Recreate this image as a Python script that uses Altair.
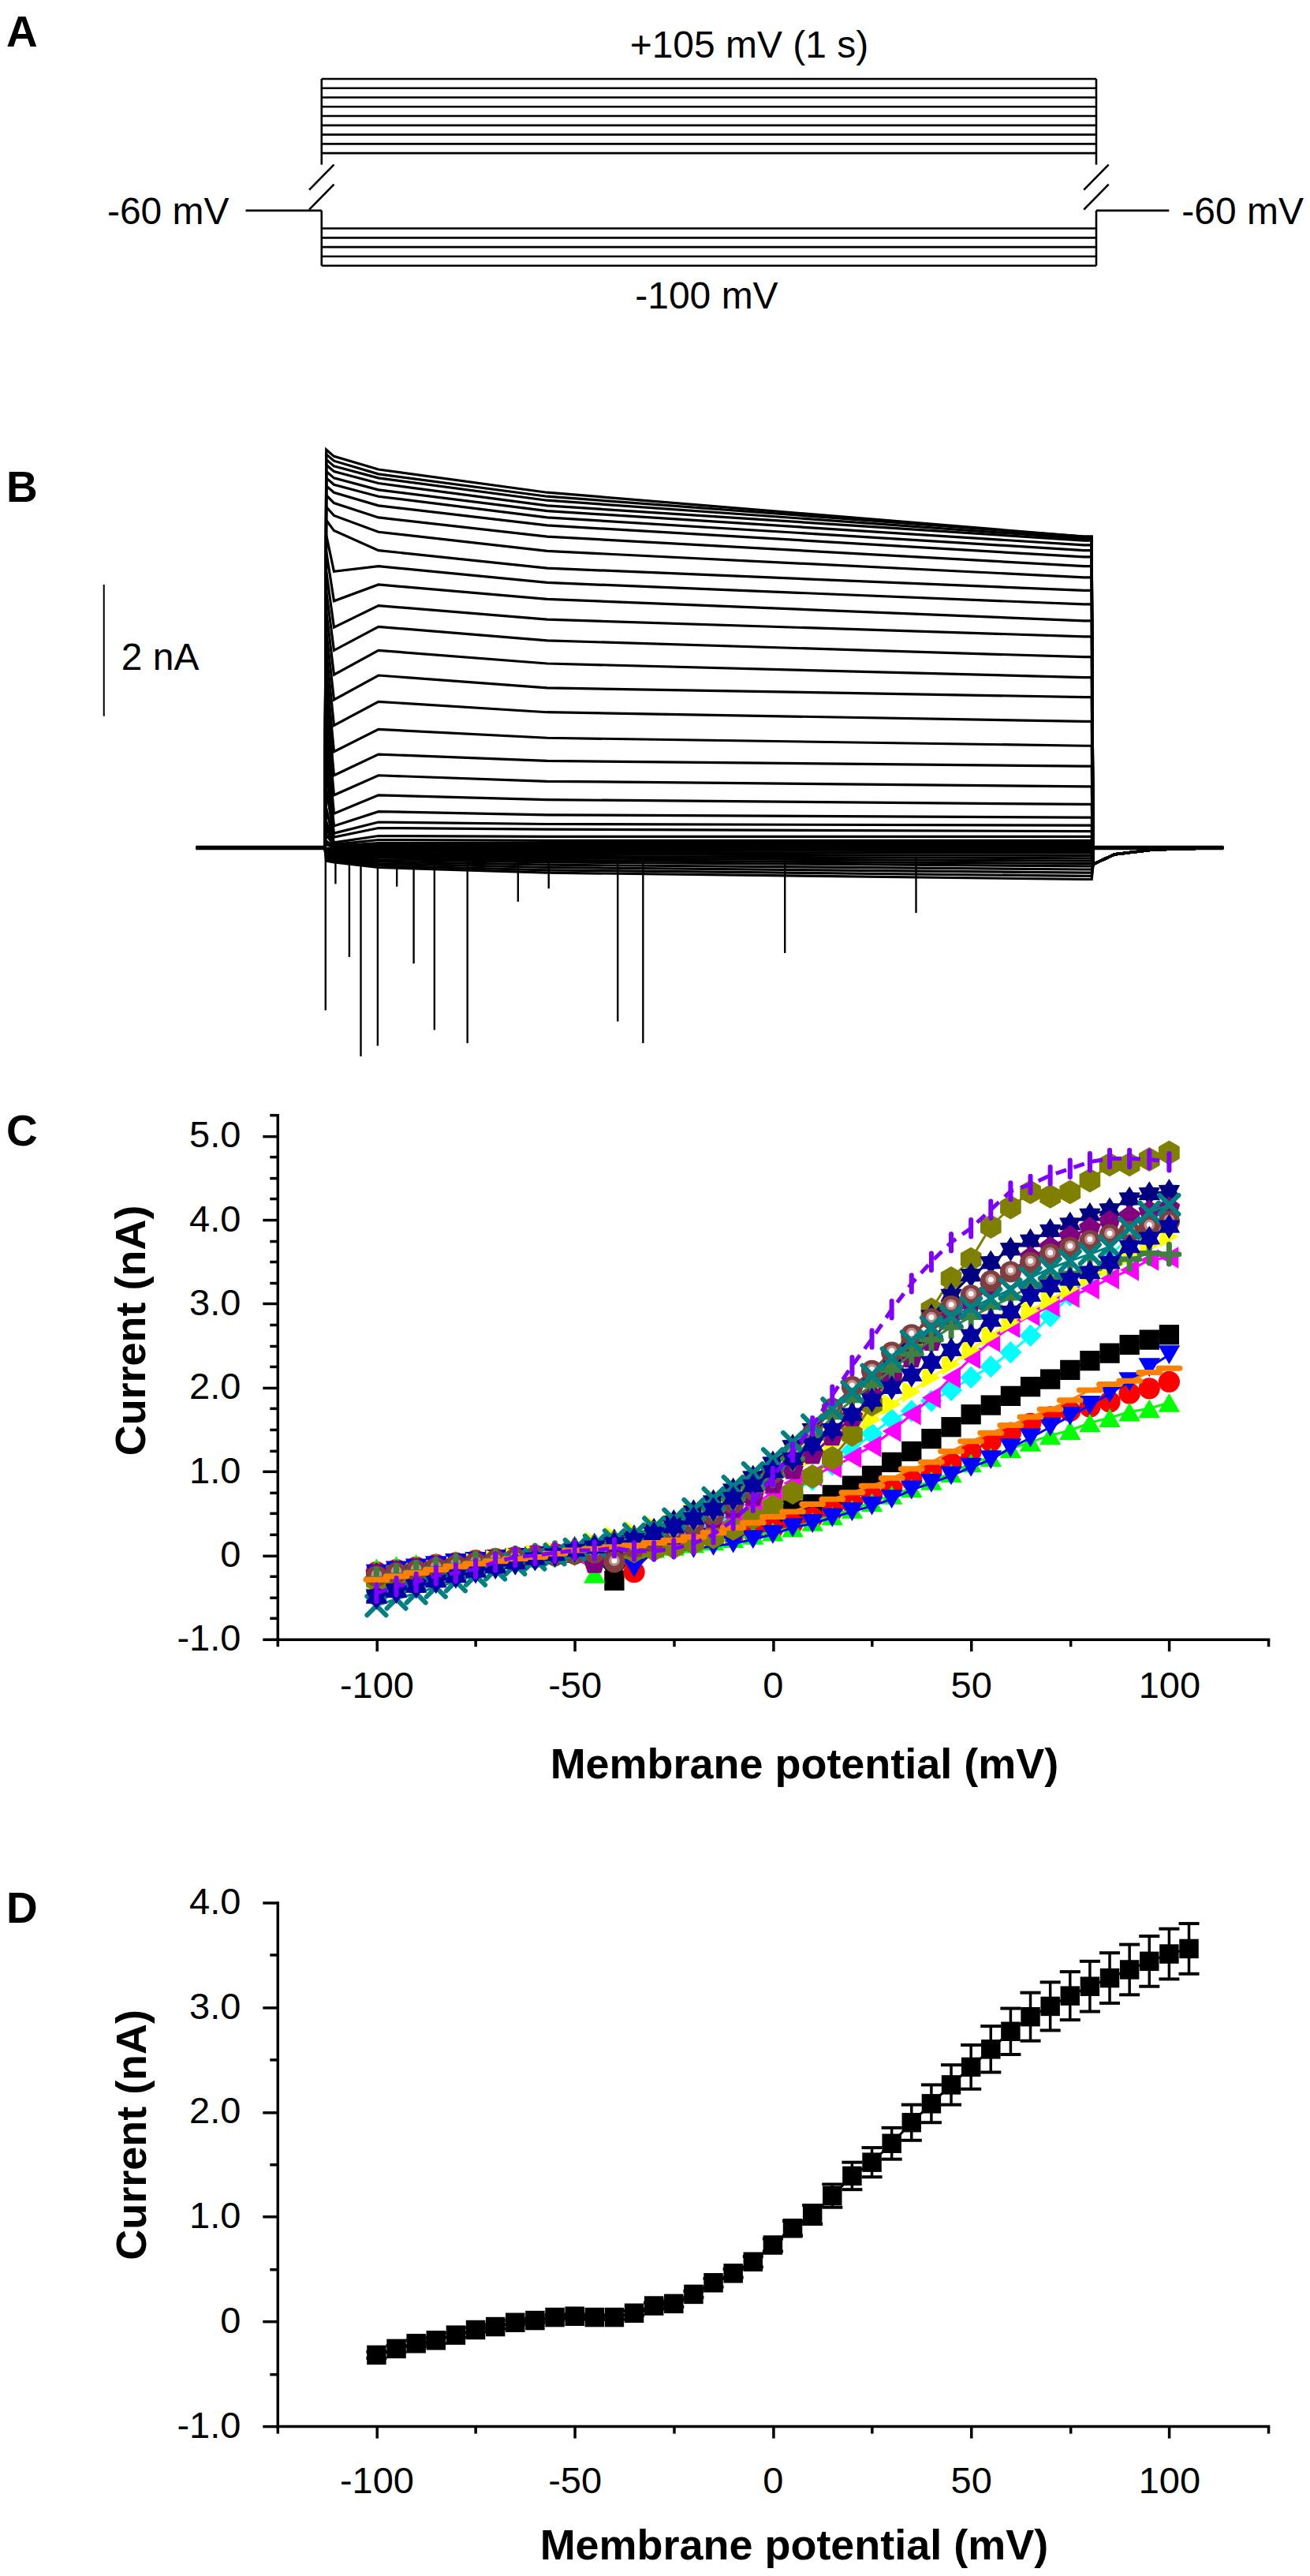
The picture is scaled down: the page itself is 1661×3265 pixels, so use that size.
import numpy as np
import pandas as pd
import altair as alt

FONT = "Liberation Sans"

# ---------- panel A: voltage protocol (schematic) ----------
step_top_mv = [105, 100, 95, 90, 85, 80, 75, 70, 65]
step_bottom_mv = [-80, -85, -90, -95, -100]
holding_mv = -60
step_on_ms, step_off_ms = 0, 1000
hold_start_ms, hold_end_ms = -98, 1094
edge_segments_mv = [[105, 40], [-60, -100]]   # step edges above / below the break
slash_mv = [[40, -15], [-3, -58]]             # the two strokes of the "//" break
slash_half_ms = 16

# ---------- panel B: current traces (nA), one row per sweep ----------
sweep_mv = list(range(-100, 110, 5))
trace_t_ms = [2, 12, 70, 290, 990]
i_2ms = [-0.20, -0.18, -0.16, -0.14, -0.12, -0.10, -0.08, -0.06, -0.05, -0.03, -0.02, -0.01,
         0.05, 0.10, 0.20, 0.30,
         0.40, 0.60, 0.90, 1.20, 1.50, 1.80, 2.10, 2.40, 2.70, 3.00, 3.30, 3.60, 3.90, 4.20,
         4.50, 4.75, 4.98, 5.18, 5.36, 5.50, 5.62, 5.72, 5.82, 5.90, 5.98, 6.05]
i_12ms = [-0.22, -0.20, -0.18, -0.16, -0.14, -0.12, -0.10, -0.08, -0.06, -0.04, -0.02, 0.00,
          0.01, 0.02, 0.03, 0.03,
          0.05, 0.08, 0.16, 0.22, 0.33, 0.52, 0.80, 1.10, 1.46, 1.86, 2.25, 2.63, 3.00, 3.35,
          3.75, 4.20, 4.82, 5.05, 5.24, 5.40, 5.52, 5.62, 5.72, 5.80, 5.88, 5.95]
i_70ms = [-0.30, -0.27, -0.24, -0.21, -0.18, -0.15, -0.12, -0.10, -0.08, -0.05, -0.03, -0.01,
          0.01, 0.03, 0.05, 0.07,
          0.12, 0.18, 0.30, 0.39, 0.55, 0.80, 1.10, 1.42, 1.80, 2.22, 2.62, 3.00, 3.36, 3.68,
          4.00, 4.28, 4.52, 4.80, 5.02, 5.20, 5.34, 5.44, 5.54, 5.62, 5.68, 5.75]
i_290ms = [-0.38, -0.34, -0.30, -0.26, -0.22, -0.19, -0.16, -0.13, -0.10, -0.07, -0.04, -0.02,
           0.00, 0.02, 0.04, 0.07,
           0.11, 0.17, 0.28, 0.36, 0.50, 0.73, 1.01, 1.32, 1.67, 2.06, 2.43, 2.80, 3.15, 3.47,
           3.78, 4.03, 4.25, 4.51, 4.73, 4.90, 5.02, 5.12, 5.20, 5.28, 5.34, 5.40]
i_990ms = [-0.48, -0.43, -0.38, -0.33, -0.28, -0.24, -0.20, -0.16, -0.12, -0.08, -0.05, -0.02,
           0.00, 0.02, 0.04, 0.07,
           0.11, 0.17, 0.25, 0.34, 0.46, 0.66, 0.93, 1.24, 1.55, 1.92, 2.29, 2.59, 2.90, 3.21,
           3.45, 3.70, 3.91, 4.11, 4.28, 4.42, 4.52, 4.60, 4.67, 4.70, 4.73, 4.73]
tail_t_ms = [1002, 1030, 1080, 1172]
tail_na = [-0.25, -0.10, -0.03, 0.0]
baseline_ms = [[-168, 0], [1000, 1172]]
event_t_ms = [1, 14, 32, 47, 69, 94, 116, 143, 186, 252, 292, 382, 415, 600, 771]
event_na = [-2.47, -0.55, -1.66, -3.17, -3.01, -0.59, -1.76, -2.77, -2.97, -0.82, -0.62,
            -2.64, -2.97, -1.60, -0.99]
scalebar_ms = -288
scalebar_na = [2.0, 4.0]

# ---------- panel C: I-V curves of single cells ----------
c_mv = list(range(-100, 105, 5))
c_black = [-0.25, -0.21, -0.17, -0.14, -0.11, -0.08, -0.05, -0.03, -0.01, 0.01, 0.03,
           0.03, -0.30, 0.06, 0.10, 0.15, 0.20, 0.26, 0.32, 0.40, 0.47,
           0.54, 0.61, 0.72, 0.83, 0.95, 1.11, 1.24, 1.39, 1.53, 1.68,
           1.79, 1.90, 2.01, 2.10, 2.21, 2.32, 2.41, 2.51, 2.57, 2.63]
c_red = [-0.20, -0.17, -0.14, -0.11, -0.09, -0.06, -0.04, -0.02, 0.00, 0.02, 0.03,
         0.04, 0.03, -0.20, 0.08, 0.12, 0.16, 0.20, 0.24, 0.28, 0.32,
         0.38, 0.45, 0.53, 0.62, 0.71, 0.80, 0.90, 1.00, 1.10, 1.24,
         1.36, 1.46, 1.57, 1.65, 1.72, 1.77, 1.83, 1.93, 1.99, 2.07]
c_green = [-0.15, -0.12, -0.10, -0.08, -0.06, -0.04, -0.02, 0.00, 0.01, 0.02, 0.03,
           -0.22, 0.04, 0.06, 0.08, 0.11, 0.14, 0.17, 0.20, 0.24, 0.28,
           0.33, 0.40, 0.47, 0.55, 0.63, 0.72, 0.80, 0.89, 0.98, 1.10,
           1.17, 1.27, 1.35, 1.43, 1.49, 1.58, 1.64, 1.71, 1.75, 1.82]
c_blue = [-0.22, -0.18, -0.15, -0.12, -0.09, -0.07, -0.05, -0.03, -0.01, 0.01, 0.02,
          0.02, 0.02, -0.15, 0.04, 0.06, 0.08, 0.11, 0.14, 0.19, 0.25,
          0.33, 0.38, 0.45, 0.52, 0.59, 0.67, 0.78, 0.86, 0.95, 1.05,
          1.14, 1.28, 1.40, 1.53, 1.66, 1.79, 1.93, 2.07, 2.24, 2.39]
c_cyan = [-0.40, -0.35, -0.30, -0.25, -0.20, -0.16, -0.12, -0.08, -0.05, -0.02, 0.01,
          0.04, 0.07, 0.10, 0.15, 0.22, 0.30, 0.38, 0.45, 0.53, 0.62,
          0.75, 0.90, 1.08, 1.25, 1.45, 1.62, 1.72, 1.84, 1.97, 2.12,
          2.25, 2.42, 2.62, 2.85, 3.10, 3.35, 3.58, 3.78, 3.95, 4.05]
c_magenta = [-0.35, -0.30, -0.25, -0.21, -0.17, -0.13, -0.09, -0.06, -0.03, 0.00, 0.02,
             0.04, 0.06, 0.09, 0.13, 0.18, 0.25, 0.33, 0.45, 0.60, 0.75,
             0.86, 0.95, 1.05, 1.17, 1.30, 1.48, 1.68, 1.88, 2.12, 2.35,
             2.55, 2.72, 2.86, 2.97, 3.08, 3.18, 3.30, 3.40, 3.52, 3.55]
c_yellow = [-0.30, -0.26, -0.22, -0.18, -0.14, -0.10, -0.06, -0.03, 0.00, 0.04, 0.08,
            0.15, 0.22, 0.28, 0.35, 0.42, 0.50, 0.59, 0.69, 0.80, 0.92,
            1.05, 1.18, 1.32, 1.47, 1.62, 1.80, 1.95, 2.12, 2.28, 2.45,
            2.62, 2.78, 2.92, 3.05, 3.18, 3.32, 3.44, 3.57, 3.69, 3.80]
c_olive = [-0.30, -0.26, -0.22, -0.18, -0.14, -0.10, -0.07, -0.04, -0.02, 0.00, 0.02,
           0.03, 0.04, 0.05, 0.07, 0.10, 0.15, 0.22, 0.32, 0.45, 0.58,
           0.75, 0.94, 1.16, 1.44, 1.80, 2.15, 2.55, 2.93, 3.30, 3.53,
           3.92, 4.15, 4.33, 4.28, 4.33, 4.47, 4.66, 4.66, 4.72, 4.80]
c_navy = [-0.48, -0.41, -0.35, -0.29, -0.23, -0.17, -0.12, -0.07, -0.02, 0.03, 0.08,
          0.12, 0.17, 0.22, 0.30, 0.40, 0.52, 0.64, 0.78, 0.93, 1.10,
          1.30, 1.50, 1.72, 1.92, 2.15, 2.38, 2.60, 2.85, 3.10, 3.34,
          3.49, 3.65, 3.75, 3.87, 3.95, 4.06, 4.12, 4.25, 4.31, 4.34]
c_purple = [-0.22, -0.19, -0.16, -0.13, -0.10, -0.07, -0.05, -0.03, -0.01, 0.01, 0.02,
            -0.10, 0.05, 0.10, 0.16, 0.24, 0.33, 0.44, 0.56, 0.70, 0.85,
            1.02, 1.20, 1.42, 1.65, 1.90, 2.12, 2.35, 2.55, 2.85, 3.02,
            3.20, 3.38, 3.55, 3.67, 3.80, 3.90, 3.98, 4.04, 4.10, 4.14]
c_wine = [-0.25, -0.21, -0.18, -0.15, -0.12, -0.09, -0.06, -0.04, -0.02, 0.00, 0.02,
          0.03, -0.08, 0.10, 0.17, 0.26, 0.37, 0.48, 0.62, 0.78, 0.98,
          1.22, 1.45, 1.75, 2.01, 2.20, 2.42, 2.63, 2.82, 2.97, 3.10,
          3.27, 3.38, 3.49, 3.59, 3.67, 3.75, 3.82, 3.86, 3.92, 3.98]
c_dkgreen = [-0.28, -0.24, -0.20, -0.16, -0.12, -0.09, -0.06, -0.03, 0.00, 0.03, 0.06,
             0.10, 0.14, 0.19, 0.26, 0.34, 0.44, 0.55, 0.67, 0.80, 0.95,
             1.15, 1.40, 1.65, 1.85, 2.03, 2.21, 2.40, 2.57, 2.72, 2.84,
             2.96, 3.07, 3.21, 3.30, 3.36, 3.42, 3.48, 3.53, 3.60, 3.59]
c_teal = [-0.60, -0.52, -0.45, -0.38, -0.31, -0.24, -0.17, -0.11, -0.05, 0.01, 0.07,
          0.12, 0.18, 0.25, 0.33, 0.43, 0.55, 0.68, 0.82, 0.98, 1.15,
          1.35, 1.55, 1.75, 1.95, 2.15, 2.35, 2.55, 2.72, 2.85, 2.95,
          3.06, 3.17, 3.31, 3.42, 3.51, 3.59, 3.68, 3.90, 4.09, 4.18]
c_royal = [-0.50, -0.43, -0.37, -0.31, -0.25, -0.19, -0.14, -0.09, -0.04, 0.01, 0.06,
           0.10, 0.14, 0.19, 0.26, 0.34, 0.44, 0.55, 0.68, 0.83, 1.00,
           1.15, 1.32, 1.50, 1.68, 1.85, 2.00, 2.15, 2.30, 2.45, 2.62,
           2.80, 2.90, 3.10, 3.21, 3.29, 3.37, 3.49, 3.68, 3.78, 3.92]
c_orange = [-0.29, -0.25, -0.21, -0.17, -0.13, -0.10, -0.07, -0.04, -0.02, 0.02, 0.06,
            0.08, 0.10, 0.12, 0.15, 0.18, 0.22, 0.27, 0.33, 0.39, 0.46,
            0.52, 0.61, 0.67, 0.75, 0.83, 0.92, 1.03, 1.11, 1.24, 1.36,
            1.46, 1.55, 1.65, 1.74, 1.85, 1.97, 2.04, 2.08, 2.18, 2.23]
c_violet = [-0.45, -0.37, -0.32, -0.24, -0.21, -0.16, -0.08, -0.02, 0.00, 0.03, 0.06,
            0.06, 0.09, 0.05, 0.05, 0.08, 0.14, 0.25, 0.42, 0.63, 0.94,
            1.23, 1.54, 1.91, 2.26, 2.58, 2.93, 3.24, 3.50, 3.73, 3.90,
            4.12, 4.34, 4.42, 4.53, 4.61, 4.69, 4.73, 4.73, 4.72, 4.69]

# ---------- panel D: mean I-V with SEM ----------
d_mv = list(range(-100, 110, 5))
d_mean = [-0.32, -0.26, -0.21, -0.18, -0.13, -0.08, -0.05, -0.01, 0.01, 0.04, 0.05,
          0.04, 0.04, 0.08, 0.15, 0.17, 0.26, 0.37, 0.46, 0.57, 0.73,
          0.89, 1.02, 1.20, 1.39, 1.52, 1.70, 1.90, 2.08, 2.26, 2.43,
          2.60, 2.77, 2.91, 3.01, 3.11, 3.20, 3.28, 3.36, 3.44, 3.51, 3.56]
d_sem = [0.03, 0.03, 0.03, 0.03, 0.02, 0.02, 0.02, 0.02, 0.02, 0.02, 0.02,
         0.02, 0.02, 0.02, 0.03, 0.03, 0.03, 0.04, 0.04, 0.05, 0.06,
         0.07, 0.09, 0.11, 0.13, 0.14, 0.15, 0.17, 0.18, 0.19, 0.21,
         0.22, 0.22, 0.23, 0.23, 0.23, 0.24, 0.24, 0.24, 0.24, 0.24, 0.24]

# ---------- axis ticks ----------
iv_x_ticks = [-125, -100, -75, -50, -25, 0, 25, 50, 75, 100, 125]
c_y_ticks = [-1.0, -0.75, -0.5, -0.25, 0.0, 0.25, 0.5, 0.75, 1.0, 1.25, 1.5, 1.75, 2.0, 2.25,
             2.5, 2.75, 3.0, 3.25, 3.5, 3.75, 4.0, 4.25, 4.5, 4.75, 5.0, 5.25]
d_y_ticks = [-1.0, -0.5, 0.0, 0.5, 1.0, 1.5, 2.0, 2.5, 3.0, 3.5, 4.0]

# ---------- symbols ----------
HEXAGON = "M0,-1L0.866,-0.5L0.866,0.5L0,1L-0.866,0.5L-0.866,-0.5Z"
PENTAGON = "M0,-1L0.951,-0.309L0.588,0.809L-0.588,0.809L-0.951,-0.309Z"
STAR = ("M0,-1L0.3,-0.52L0.866,-0.5L0.6,0L0.866,0.5L0.3,0.52L0,1L-0.3,0.52"
        "L-0.866,0.5L-0.6,0L-0.866,-0.5L-0.3,-0.52Z")
XCROSS = "M-1,-1L1,1M-1,1L1,-1"
PLUS = "M-1,0L1,0M0,-1L0,1"
HBAR = "M-1,0L1,0"
VBAR = "M0,-1L0,1"

# values, color, shape, filled, size, stroke width (drawing order as in the figure)
c_styles = [
    (c_black, "#000000", "square", True, 640, 0),
    (c_red, "#FF0000", "circle", True, 740, 0),
    (c_green, "#00FF00", "triangle-up", True, 760, 0),
    (c_blue, "#0000FF", "triangle-down", True, 760, 0),
    (c_cyan, "#00FFFF", "diamond", True, 800, 0),
    (c_magenta, "#FF00FF", "triangle-left", True, 760, 0),
    (c_yellow, "#FFFF00", "triangle-right", True, 760, 0),
    (c_olive, "#808000", HEXAGON, True, 950, 0),
    (c_navy, "#000080", STAR, True, 1000, 0),
    (c_purple, "#800080", PENTAGON, True, 850, 0),
    (c_wine, "#7F3F3F", "circle", True, 740, 0),
    (c_dkgreen, "#3F7F3F", PLUS, False, 620, 7),
    (c_teal, "#008080", XCROSS, False, 580, 6),
    (c_royal, "#0000A0", STAR, True, 1000, 0),
    (c_orange, "#FF8000", HBAR, False, 720, 7),
    (c_violet, "#8000FF", VBAR, False, 460, 6),
]


def letter(label, y_px):
    return alt.Chart(pd.DataFrame({"label": [label]})).mark_text(
        font=FONT, fontSize=55, fontWeight="bold", align="left",
        baseline="alphabetic", color="black",
    ).encode(x=alt.value(-344), y=alt.value(y_px), text="label:N")


# ---------- A ----------
xa = alt.Scale(domain=[-57, 1222], nice=False, zero=False)
ya = alt.Scale(domain=[-100, -80, -60, 65, 105], range=[328, 280.7, 258, 185.3, 91],
               nice=False, zero=False)

steps = pd.DataFrame({"t": step_on_ms, "t1": step_off_ms, "v": step_top_mv + step_bottom_mv})
edges = pd.DataFrame([{"t": e, "v": s[0], "v1": s[1]}
                      for e in (step_on_ms, step_off_ms) for s in edge_segments_mv])
stubs = pd.DataFrame({"t": [hold_start_ms, step_off_ms], "t1": [step_on_ms, hold_end_ms],
                      "v": [holding_mv, holding_mv]})
slashes = pd.DataFrame([{"t": e + slash_half_ms, "t1": e - slash_half_ms, "v": s[0], "v1": s[1]}
                        for e in (step_on_ms, step_off_ms) for s in slash_mv])

rule_a = dict(color="black", strokeWidth=2.6)
a_steps = alt.Chart(steps).mark_rule(**rule_a).encode(
    x=alt.X("t:Q", scale=xa, axis=None), x2="t1:Q", y=alt.Y("v:Q", scale=ya, axis=None))
a_edges = alt.Chart(edges).mark_rule(**rule_a).encode(
    x=alt.X("t:Q", scale=xa, axis=None), y=alt.Y("v:Q", scale=ya, axis=None), y2="v1:Q")
a_stubs = alt.Chart(stubs).mark_rule(**rule_a).encode(
    x=alt.X("t:Q", scale=xa, axis=None), x2="t1:Q", y=alt.Y("v:Q", scale=ya, axis=None))
a_slash = alt.Chart(slashes).mark_rule(**rule_a).encode(
    x=alt.X("t:Q", scale=xa, axis=None), x2="t1:Q",
    y=alt.Y("v:Q", scale=ya, axis=None), y2="v1:Q")


def a_label(t, v, text, **kw):
    return alt.Chart(pd.DataFrame({"t": [t], "v": [v], "label": [text]})).mark_text(
        font=FONT, fontSize=48, color="black", **kw
    ).encode(x=alt.X("t:Q", scale=xa, axis=None), y=alt.Y("v:Q", scale=ya, axis=None),
             text="label:N")


panel_a = alt.layer(
    a_steps, a_edges, a_stubs, a_slash,
    a_label(552, 105, "+105 mV (1 s)", align="center", baseline="alphabetic", dy=-27),
    a_label(497, -100, "-100 mV", align="center", baseline="alphabetic", dy=54),
    a_label(hold_start_ms, holding_mv, "-60 mV", align="right", baseline="middle", dx=-21, dy=3),
    a_label(hold_end_ms, holding_mv, "-60 mV", align="left", baseline="middle", dx=16, dy=3),
    letter("A", 50),
).properties(width=1257, height=335)

# ---------- B ----------
xb = alt.Scale(domain=[-61.7, 1230.2], nice=False, zero=False)
yb = alt.Scale(domain=[-0.058, 4.760], nice=False, zero=False)

rows = []
for k, mv in enumerate(sweep_mv):
    pts = [(baseline_ms[0][0], 0.0), (step_on_ms, 0.0)]
    pts += list(zip(trace_t_ms, [i_2ms[k], i_12ms[k], i_70ms[k], i_290ms[k], i_990ms[k]]))
    pts += [(step_off_ms, i_990ms[k])]
    pts += list(zip(tail_t_ms, tail_na))
    rows += [{"sweep": mv, "t": t, "i": v} for t, v in pts]
traces = pd.DataFrame(rows)

bx = alt.X("t:Q", scale=xb, axis=None)
by = alt.Y("i:Q", scale=yb, axis=None)
b_traces = alt.Chart(traces).mark_line(color="black", strokeWidth=3.2).encode(
    x=bx, y=by, detail="sweep:N")
b_base = alt.Chart(pd.DataFrame({"t": [b[0] for b in baseline_ms], "t1": [b[1] for b in baseline_ms],
                                 "i": [0.0, 0.0]})).mark_rule(color="black", strokeWidth=5.5).encode(
    x=bx, x2="t1:Q", y=by)
b_events = alt.Chart(pd.DataFrame({"t": event_t_ms, "i": [-0.15] * len(event_t_ms),
                                   "i1": event_na})).mark_rule(color="black", strokeWidth=2.4).encode(
    x=bx, y=by, y2="i1:Q")
b_bar = alt.Chart(pd.DataFrame({"t": [scalebar_ms], "i": [scalebar_na[0]], "i1": [scalebar_na[1]]})
                  ).mark_rule(color="black", strokeWidth=2).encode(x=bx, y=by, y2="i1:Q")
b_bar_label = alt.Chart(pd.DataFrame({"t": [scalebar_ms], "i": [2.91], "label": ["2 nA"]})).mark_text(
    font=FONT, fontSize=48, color="black", align="left", baseline="middle", dx=22, dy=3
).encode(x=bx, y=by, text="label:N")

panel_b = alt.layer(b_base, b_traces, b_events, b_bar, b_bar_label, letter("B", -42)).properties(
    width=1257, height=402)


# ---------- C and D axes ----------
def x_axis(label_pad, title_x, title_y):
    return alt.Axis(
        values=iv_x_ticks,
        labelExpr="abs(datum.value % 50) < 0.001 ? (datum.value < 0 ? '-' : '') + format(abs(datum.value), 'd') : ''",
        tickSize={"condition": {"test": "abs(datum.value % 50) < 0.001", "value": 15}, "value": 9},
        tickWidth=3.5, tickColor="black", domainColor="black", domainWidth=3.5, domainCap="square",
        labelFont=FONT, labelFontSize=47, labelColor="black", labelPadding=label_pad,
        labelFlush=False, labelOverlap=False, grid=False,
        title="Membrane potential (mV)", titleFont=FONT, titleFontSize=54, titleFontWeight="bold",
        titleColor="black", titleX=title_x, titleY=title_y, titleAlign="center", titleBaseline="middle",
    )


def y_axis(ticks, label_pad, title_x, title_y):
    return alt.Axis(
        values=ticks,
        labelExpr="abs(datum.value % 1) < 0.001 ? (datum.value == 0 ? '0' : (datum.value < 0 ? '-' : '') + format(abs(datum.value), '.1f')) : ''",
        tickSize={"condition": {"test": "abs(datum.value % 1) < 0.001", "value": 19}, "value": 10},
        tickWidth=3.5, tickColor="black", domainColor="black", domainWidth=3.5, domainCap="square",
        labelFont=FONT, labelFontSize=47, labelColor="black", labelPadding=label_pad,
        labelFlush=False, labelOverlap=False, grid=False,
        title="Current (nA)", titleFont=FONT, titleFontSize=54, titleFontWeight="bold",
        titleColor="black", titleX=title_x, titleY=title_y, titleAngle=270,
        titleAlign="center", titleBaseline="middle",
    )


# ---------- C ----------
xc = alt.X("mv:Q", scale=alt.Scale(domain=[-125, 125], nice=False, zero=False),
           axis=x_axis(22, 668, 160))
yc = alt.Y("current:Q", scale=alt.Scale(domain=[-1, 5.25], nice=False, zero=False),
           axis=y_axis(c_y_ticks, 28, -184, 273))

c_layers = []
for vals, color, shape, filled, size, sw in c_styles:
    df = pd.DataFrame({"mv": c_mv, "current": vals})
    line_kw = dict(color=color, strokeWidth=3)
    if color == "#8000FF":
        line_kw = dict(color=color, strokeWidth=5, strokeDash=[14, 10])
    c_layers.append(alt.Chart(df).mark_line(**line_kw).encode(x=xc, y=yc))
    if filled:
        pt = alt.Chart(df).mark_point(shape=shape, filled=True, color=color, size=size,
                                      opacity=1, strokeWidth=0)
    else:
        pt = alt.Chart(df).mark_point(shape=shape, filled=False, color=color, size=size,
                                      opacity=1, strokeWidth=sw, strokeCap="round")
    c_layers.append(pt.encode(x=xc, y=yc))
    if color == "#7F3F3F":
        # shaded sphere highlight
        c_layers.append(alt.Chart(df).mark_point(shape="circle", filled=True, color="#C08C8C",
                                                 size=190, opacity=1, yOffset=-2)
                        .encode(x=xc, y=yc))
        c_layers.append(alt.Chart(df).mark_point(shape="circle", filled=True, color="#FFFFFF",
                                                 size=50, opacity=1, yOffset=-2)
                        .encode(x=xc, y=yc))

panel_c = alt.layer(*c_layers, letter("C", 39)).properties(width=1257, height=665)

# ---------- D ----------
yd_scale = alt.Scale(domain=[-1, 4], nice=False, zero=False)
d_yaxis = y_axis(d_y_ticks, 28, -183, 294)
xd = alt.X("mv:Q", scale=alt.Scale(domain=[-125, 125], nice=False, zero=False),
           axis=x_axis(32, 655, 152))
yd = alt.Y("current:Q", scale=yd_scale, axis=d_yaxis)

dmean = pd.DataFrame({"mv": d_mv, "current": d_mean,
                      "lo": np.array(d_mean) - np.array(d_sem),
                      "hi": np.array(d_mean) + np.array(d_sem)})
d_line = alt.Chart(dmean).mark_line(color="black", strokeWidth=3).encode(x=xd, y=yd)
d_err = alt.Chart(dmean).mark_rule(color="black", strokeWidth=3.5).encode(
    x=xd, y=alt.Y("lo:Q", scale=yd_scale, axis=d_yaxis), y2="hi:Q")
cap_kw = dict(shape="stroke", filled=False, color="black", size=680, opacity=1, strokeWidth=4)
d_cap_hi = alt.Chart(dmean).mark_point(**cap_kw).encode(
    x=xd, y=alt.Y("hi:Q", scale=yd_scale, axis=d_yaxis))
d_cap_lo = alt.Chart(dmean).mark_point(**cap_kw).encode(
    x=xd, y=alt.Y("lo:Q", scale=yd_scale, axis=d_yaxis))
d_pts = alt.Chart(dmean).mark_point(shape="square", filled=True, color="black", size=600,
                                    opacity=1).encode(x=xd, y=yd)

panel_d = alt.layer(d_line, d_err, d_cap_hi, d_cap_lo, d_pts, letter("D", 25)).properties(
    width=1257, height=664)

chart = (
    alt.vconcat(panel_a, panel_b, panel_c, panel_d, spacing=334, bounds="flush")
    .properties(padding={"left": 0, "top": 0, "right": 0, "bottom": 0}, background="white")
    .configure(font=FONT)
    .configure_view(stroke="transparent", strokeWidth=0)
)

chart.save("out.html", embed_options={"renderer": "svg", "actions": False})
